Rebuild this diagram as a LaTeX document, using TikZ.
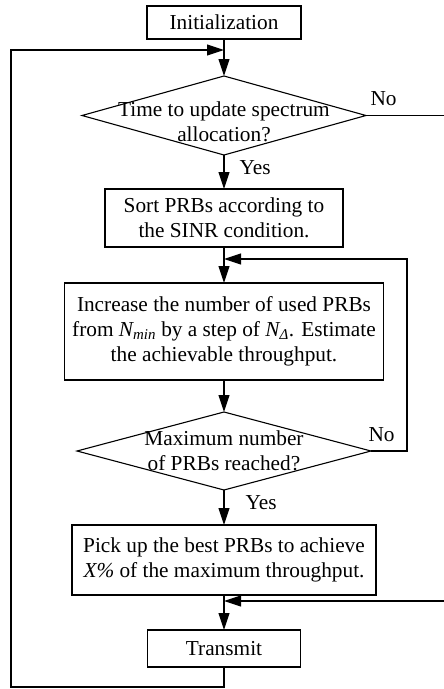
\documentclass[tikz,border=0pt]{standalone}
\usepackage{fontspec}
\setmainfont{Liberation Serif}
\usetikzlibrary{arrows.meta, shapes.geometric, positioning}

\begin{document}
\begin{tikzpicture}[
    x = 1pt, y = 1pt,
    font = \fontsize{21.3}{25}\selectfont,
    line width = 1.1pt,
    process/.style = {draw, rectangle, align = center, inner sep = 0pt, outer sep = 0pt},
    decision/.style = {draw, diamond, inner sep = 0pt, outer sep = 0pt},
    question/.style = {align = center, inner sep = 0pt},
    answer/.style = {inner sep = 1pt},
    flow/.style = {-{Triangle[length = 17pt, width = 11pt]}},
  ]
  \useasboundingbox (0,0) rectangle (444,-689);

  \node [process, minimum width = 154pt, minimum height = 33pt] (init) at (224,-22.5)
    {Initialization};
  \node [decision, minimum width = 284pt, minimum height = 79pt, below = 37pt of init] (dec1) {};
  \node [question] (dec1 text) at ([yshift = -6pt]dec1.center)
    {Time to update spectrum\\allocation?};
  \node [process, minimum width = 238pt, minimum height = 58pt, below = 34pt of dec1] (sort)
    {Sort PRBs according to\\the SINR condition.};
  \node [process, minimum width = 319pt, minimum height = 97pt, below = 36pt of sort] (inc)
    {Increase the number of used PRBs\\from \textit{N\textsubscript{min}} by a step of
     \textit{N\textsubscript{Δ}}. Estimate\\the achievable throughput.};
  \node [decision, minimum width = 294pt, minimum height = 78pt, below = 32pt of inc] (dec2) {};
  \node [question] (dec2 text) at (dec2.center)
    {Maximum number\\of PRBs reached?};
  \node [process, minimum width = 304pt, minimum height = 70pt, below = 35pt of dec2] (pick)
    {Pick up the best PRBs to achieve\\\textit{X\%} of the maximum throughput.};
  \node [process, minimum width = 153pt, minimum height = 37pt, below = 35pt of pick] (tx)
    {Transmit};

  \coordinate [below = 11pt of init] (j1);
  \coordinate [below = 12pt of sort] (j2);
  \coordinate [below = 6pt of pick] (j3);

  \draw [flow] (init) -- (dec1);
  \draw [flow] (dec1) -- (sort);
  \draw [flow] (sort) -- (inc);
  \draw [flow] (inc) -- (dec2);
  \draw [flow] (dec2) -- (pick);
  \draw [flow] (pick) -- (tx);

  \draw [flow] (dec1.east) -- ++(79pt,0) |- (j3);
  \draw [flow] (dec2.east) -- ++(36pt,0) |- (j2);
  \draw [flow] (tx.south) -- ++(0,-20pt) -- ++(-213pt,0) |- (j1);

  \node [answer, anchor = south west] (no1) at ([xshift = 3pt, yshift = 8pt]dec1.east) {No};
  \node [answer, anchor = north west] (yes1) at ([xshift = 14pt, yshift = -4pt]dec1.south) {Yes};
  \node [answer, anchor = south west] (no2) at ([xshift = -4pt, yshift = 8pt]dec2.east) {No};
  \node [answer, anchor = north west] (yes2) at ([xshift = 20pt, yshift = -4pt]dec2.south) {Yes};
\end{tikzpicture}
\end{document}
